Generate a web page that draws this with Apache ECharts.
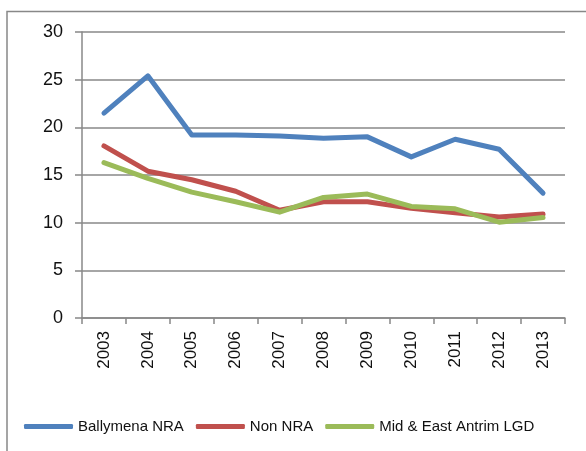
<!DOCTYPE html>
<html>
<head>
<meta charset="utf-8">
<script src="https://cdn.jsdelivr.net/npm/echarts@6/dist/echarts.min.js"></script>
<style>
html,body{margin:0;padding:0;background:#fff;}
#chart{width:586px;height:451px;}
</style>
</head>
<body>
<div id="chart"></div>
<script>
const years = ['2003','2004','2005','2006','2007','2008','2009','2010','2011','2012','2013'];
const ballymenaNRA = [21.5, 25.4, 19.2, 19.2, 19.1, 18.85, 19.0, 16.9, 18.75, 17.7, 13.1];
const nonNRA = [18.05, 15.4, 14.5, 13.3, 11.3, 12.2, 12.2, 11.5, 11.05, 10.6, 10.9];
const midEastAntrim = [16.3, 14.65, 13.2, 12.2, 11.1, 12.65, 13.0, 11.7, 11.45, 10.05, 10.55];
const yTicks = [0, 5, 10, 15, 20, 25, 30];

const FONT = 'Liberation Sans';
const chart = echarts.init(document.getElementById('chart'), null, {renderer: 'canvas'});
const mk = (name, data, color) => ({
  name, type: 'line', data, symbol: 'none', smooth: false,
  lineStyle: {color, width: 5, cap: 'round', join: 'round'},
  itemStyle: {color}
});
chart.setOption({
  animation: false,
  backgroundColor: '#fff',
  graphic: [{
    type: 'rect', shape: {x: 7, y: 11.5, width: 620, height: 520},
    style: {fill: 'none', stroke: '#888', lineWidth: 1.5}, silent: true, z: -1
  }],
  grid: {left: 82, right: 21, top: 32, bottom: 133, containLabel: false},
  xAxis: {
    type: 'category', data: years, boundaryGap: true,
    axisLine: {lineStyle: {color: '#888', width: 1.5}},
    axisTick: {show: true, length: 6, inside: false, alignWithLabel: false, lineStyle: {color: '#888', width: 1.5}},
    axisLabel: {rotate: 90, margin: 13, color: '#111', fontFamily: FONT, fontSize: 17, interval: 0}
  },
  yAxis: {
    type: 'value', min: yTicks[0], max: yTicks[yTicks.length - 1], interval: 5,
    axisLine: {show: true, lineStyle: {color: '#888', width: 1.5}},
    axisTick: {show: true, length: 7, lineStyle: {color: '#888', width: 1.5}},
    splitLine: {show: true, lineStyle: {color: '#888', width: 1.5}},
    axisLabel: {margin: 19, color: '#111', fontFamily: FONT, fontSize: 18}
  },
  legend: {
    left: 19, top: 414, itemWidth: 49, itemHeight: 5, itemGap: 12,
    icon: 'roundRect',
    textStyle: {fontFamily: FONT, fontSize: 15, color: '#111'},
    data: ['Ballymena NRA', 'Non NRA', 'Mid & East Antrim LGD']
  },
  series: [
    mk('Ballymena NRA', ballymenaNRA, '#4F81BD'),
    mk('Non NRA', nonNRA, '#C0504D'),
    mk('Mid & East Antrim LGD', midEastAntrim, '#9BBB59')
  ]
});
</script>
</body>
</html>
